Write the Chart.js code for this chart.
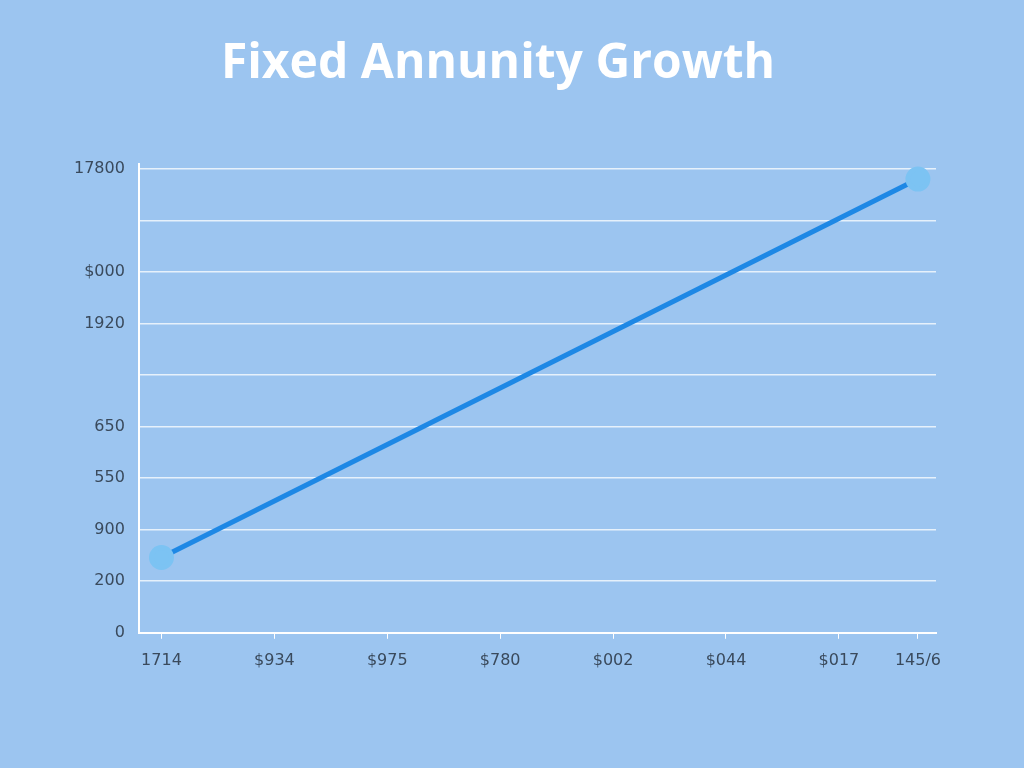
<!DOCTYPE html>
<html><head><meta charset="utf-8">
<script src="https://cdn.jsdelivr.net/npm/chart.js@4"></script>
<style>html,body{margin:0;padding:0;background:#9cc5f0;}#w{width:1024px;height:768px;}</style>
</head><body><div id="w"><canvas id="c" width="1024" height="768"></canvas></div>
<script>
const yTickLabels = ["0","200","900","550","650","","1920","$000","","17800"];
const xTickLabels = ["1714","$934","$975","$780","$002","$044","$017","145/6"];
const xTickPositions = [0,1,2,3,4,5,6,6.7];
const seriesX = [0, 6.7];
const seriesY = [1.46, 8.8];

new Chart(document.getElementById('c'), {
  type: 'line',
  data: { datasets: [{
    data: seriesX.map((x,i)=>({x:x,y:seriesY[i]})),
    borderColor: '#1e88e5', borderWidth: 5,
    pointBackgroundColor: '#7cc3f3', pointBorderColor: '#7cc3f3', pointRadius: 10
  }]},
  options: {
    responsive:false, animation:false,
    layout:{padding:{left:60,right:88,top:0,bottom:86}},
    plugins:{legend:{display:false},tooltip:{enabled:false},
      title:{display:true,text:'Fixed Annunity Growth',color:'#ffffff',
        font:{family:'Open Sans',size:48,weight:'bold'},padding:{top:36,bottom:70}}},
    scales:{
      x:{type:'linear',min:-0.2,max:6.86,
        afterBuildTicks:(a)=>{a.ticks=xTickPositions.map(v=>({value:v}));},
        ticks:{callback:(v,i)=>xTickLabels[i],color:'#3a4a5c',font:{family:'DejaVu Sans',size:16},padding:12},
        grid:{display:true,drawOnChartArea:false,color:'#ffffff',tickLength:6},
        border:{color:'#ffffff',width:2}},
      y:{min:0,max:9.1,
        afterBuildTicks:(a)=>{a.ticks=yTickLabels.map((_,i)=>({value:i}));},
        ticks:{callback:(v)=>yTickLabels[v],color:'#3a4a5c',font:{family:'DejaVu Sans',size:16},padding:14},
        grid:{color:'rgba(255,255,255,0.75)',lineWidth:1.5,drawTicks:false},
        border:{color:'#ffffff',width:2}}
    }
  }
});
</script></body></html>
